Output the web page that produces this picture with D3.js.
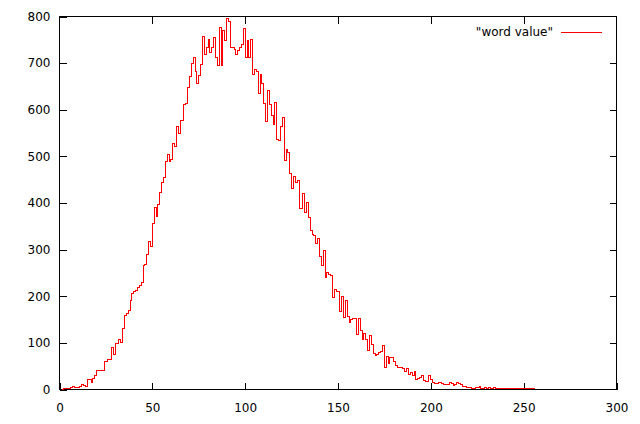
<!DOCTYPE html>
<html>
<head>
<meta charset="utf-8">
<script src="https://cdn.jsdelivr.net/npm/d3@7"></script>
<style>
  body { margin: 0; background: #fff; }
  text { font-family: "DejaVu Sans", sans-serif; font-size: 12px; fill: #000; }
</style>
</head>
<body>
<div id="chart"></div>
<script>
//// data: counts per word value, starting at value 1
var firstValue = 1;
var counts = [
  1, 2, 2, 2, 2, 4, 7, 5, 4, 4,            // 1-10
  6, 10, 9, 7, 21, 21, 14, 23, 29, 40,     // 11-20
  41, 41, 41, 59, 61, 64, 64, 90, 75, 98,  // 21-30
  98, 107, 101, 130, 159, 164, 170, 191, 206, 210,   // 31-40
  213, 218, 222, 229, 266, 268, 290, 317, 306, 356,  // 41-50
  391, 372, 397, 423, 444, 455, 490, 503, 488, 494,  // 51-60
  528, 522, 564, 550, 576, 578, 611, 613, 647, 671,  // 61-70
  699, 713, 682, 657, 673, 698, 758, 718, 733, 751,  // 71-80
  722, 734, 754, 713, 695, 776, 695, 769, 748, 796,  // 81-90
  790, 734, 733, 729, 718, 727, 733, 741, 774, 711,  // 91-100
  748, 711, 751, 675, 687, 681, 634, 675, 656, 613,  // 101-110
  574, 642, 611, 587, 568, 616, 537, 535, 565, 584,  // 111-120
  492, 515, 509, 464, 432, 457, 445, 448, 389, 389,  // 121-130
  421, 379, 401, 369, 342, 333, 330, 313, 324, 285,  // 131-140
  265, 298, 240, 252, 246, 244, 197, 214, 211, 211,  // 141-150
  168, 200, 154, 190, 156, 143, 150, 152, 152, 117,  // 151-160
  152, 127, 107, 120, 107, 84, 115, 97, 77, 73,      // 161-170
  75, 80, 82, 95, 48, 71, 55, 69, 69, 60,            // 171-180
  52, 47, 47, 47, 44, 39, 44, 32, 37, 29,            // 181-190
  39, 22, 24, 26, 30, 19, 17, 17, 29, 21,            // 191-200
  16, 13, 12, 14, 14, 12, 11, 11, 10, 14,            // 201-210
  12, 9, 11, 14, 13, 10, 7, 6, 4, 5,                 // 211-220
  5, 3, 3, 5, 4, 6, 3, 2, 4, 3,                      // 221-230
  4, 3, 2, 4, 3, 2, 2, 2, 2, 2,                      // 231-240
  2, 2, 2, 2, 2, 3, 3, 2, 2, 2,                      // 241-250
  2, 2, 2, 2, 2, 2                                   // 251-256
];
var xTicks = [0, 50, 100, 150, 200, 250, 300];
var yTicks = [0, 100, 200, 300, 400, 500, 600, 700, 800];
var seriesName = "\"word value\"";

var W = 640, H = 424;
var margin = {top: 16, right: 24, bottom: 35, left: 59};

var svg = d3.select("#chart").append("svg")
    .attr("width", W)
    .attr("height", H);

var x = d3.scaleLinear().domain([0, 300]).range([margin.left, W - margin.right]);
var y = d3.scaleLinear().domain([0, 800]).range([H - margin.bottom, margin.top]);

var data = counts.map(function(c, i) { return {v: firstValue + i, n: c}; });

// axes (ticks point inward like gnuplot)
var tl = 7;
svg.append("g")
    .attr("transform", "translate(0.5," + (y(0) + 0.5) + ")")
    .call(d3.axisBottom(x).tickValues(xTicks).tickSizeInner(-tl).tickSizeOuter(0).tickPadding(14));
svg.append("g")
    .attr("transform", "translate(0.5," + (y(800) + 0.5) + ")")
    .call(d3.axisTop(x).tickValues(xTicks.slice(1, -1)).tickSizeInner(-tl).tickSizeOuter(0).tickFormat(""));
svg.append("g")
    .attr("transform", "translate(" + (x(0) + 0.5) + ",0.5)")
    .call(d3.axisLeft(y).tickValues(yTicks).tickSizeInner(-tl).tickSizeOuter(0).tickPadding(9));
svg.append("g")
    .attr("transform", "translate(" + (x(300) + 0.5) + ",0.5)")
    .call(d3.axisRight(y).tickValues(yTicks.slice(1, -1)).tickSizeInner(-tl).tickSizeOuter(0).tickFormat(""));

svg.selectAll(".domain").remove();
svg.selectAll(".tick line").attr("stroke", "#000").attr("shape-rendering", "crispEdges");
svg.selectAll(".tick text").attr("fill", "#000").style("font-size", "12px").style("font-family", "DejaVu Sans, sans-serif");

// frame
svg.append("rect")
    .attr("x", x(0) + 0.5)
    .attr("y", y(800) + 0.5)
    .attr("width", x(300) - x(0))
    .attr("height", y(0) - y(800))
    .attr("fill", "none")
    .attr("stroke", "#000")
    .attr("shape-rendering", "crispEdges");

// steps
var line = d3.line()
    .x(function(d) { return Math.round(x(d.v)) + 0.5; })
    .y(function(d) { return Math.round(y(d.n)) + 0.5; })
    .curve(d3.curveStepAfter);

svg.append("path")
    .datum(data)
    .attr("d", line)
    .attr("fill", "none")
    .attr("stroke", "#ff0000")
    .attr("stroke-width", 1)
    .attr("shape-rendering", "crispEdges");

// legend
svg.append("text")
    .attr("x", 553)
    .attr("y", 36)
    .attr("text-anchor", "end")
    .text(seriesName);
svg.append("line")
    .attr("x1", 561).attr("x2", 602)
    .attr("y1", 32.5).attr("y2", 32.5)
    .attr("stroke", "#ff0000")
    .attr("shape-rendering", "crispEdges");
</script>
</body>
</html>
